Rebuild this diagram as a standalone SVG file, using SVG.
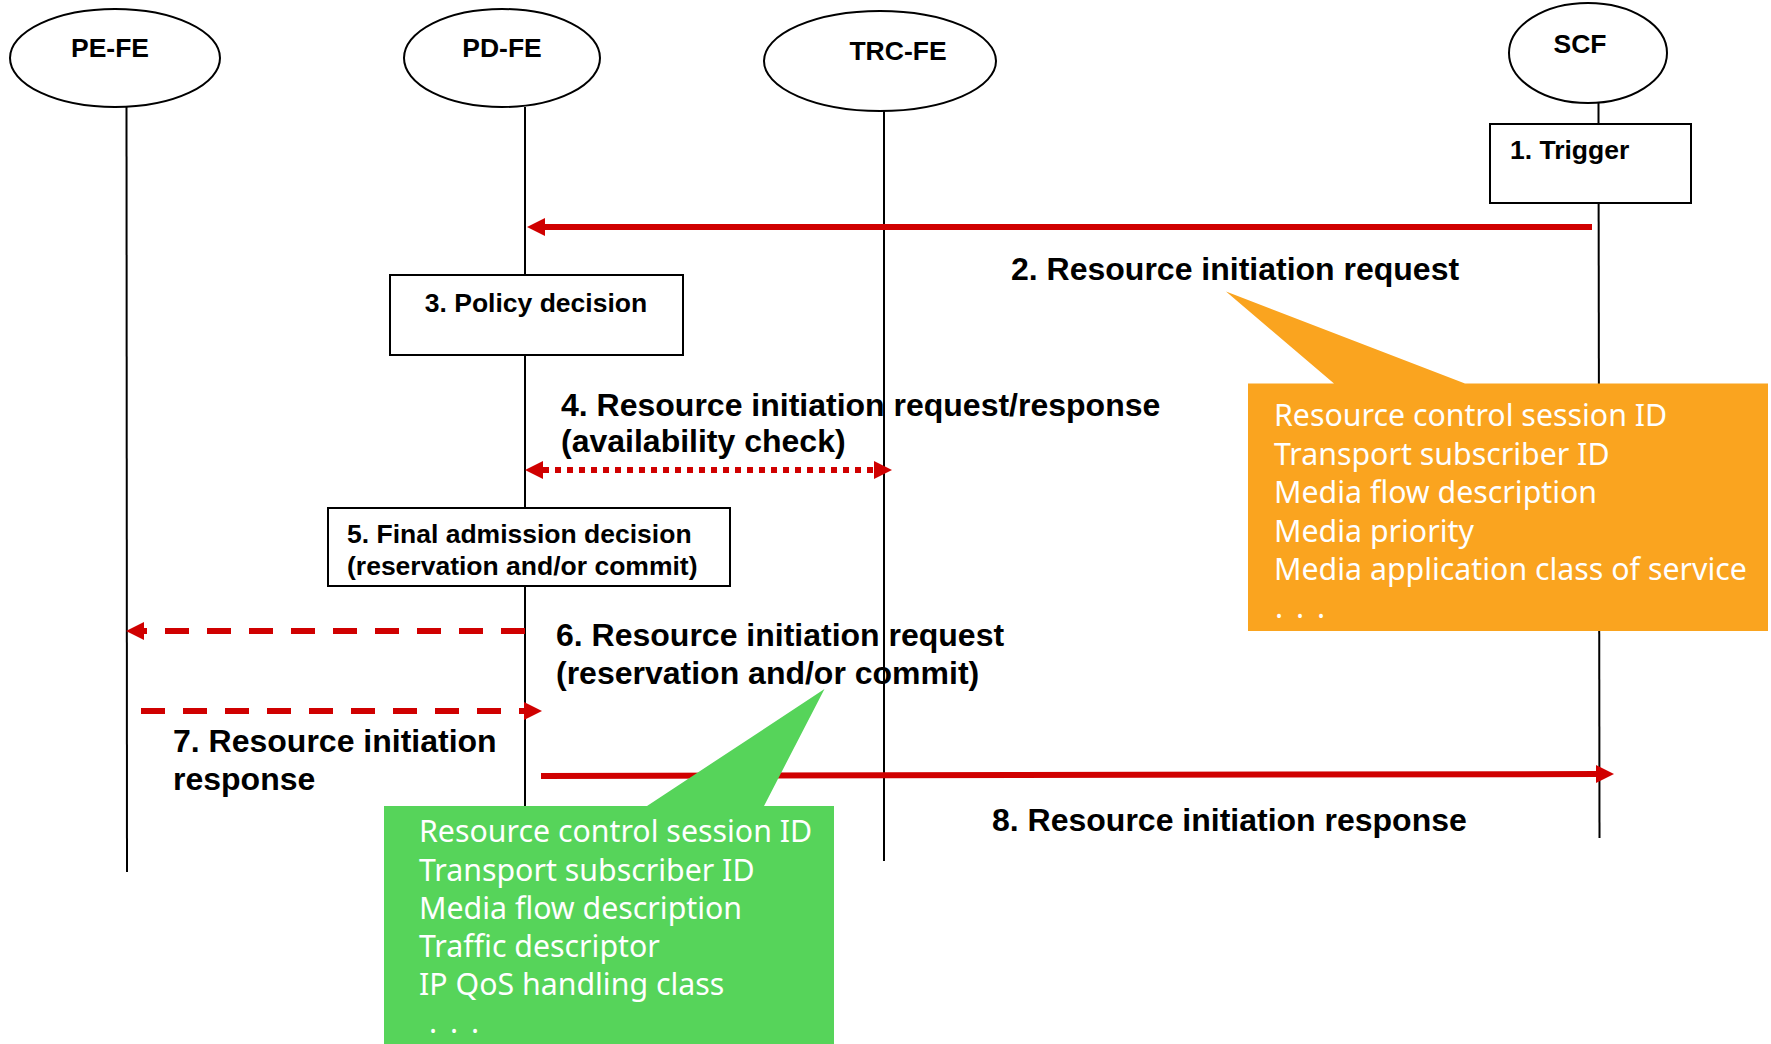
<svg xmlns="http://www.w3.org/2000/svg" width="1771" height="1044" viewBox="0 0 1771 1044">
<style>
.node ellipse{fill:#fff;stroke:#000;stroke-width:2}
.box rect{fill:#fff;stroke:#000;stroke-width:2}
.nl{font-family:"Liberation Sans",Arial,sans-serif;font-weight:bold;font-size:26.5px;fill:#000}
.ml{font-family:"Liberation Sans",Arial,sans-serif;font-weight:bold;font-size:32px;fill:#000}
.life{stroke:#000;stroke-width:2;fill:none}
.msg{stroke:#D00000;stroke-width:6;fill:none}
.dash{stroke-dasharray:24 18}
.dot{stroke-dasharray:6 6}
.ct{font-family:"Noto Sans","Open Sans",sans-serif;font-size:30.3px;fill:#fff}
</style>
<defs>
<marker id="ah" markerUnits="userSpaceOnUse" markerWidth="18" markerHeight="18" refX="0" refY="9" orient="auto-start-reverse" viewBox="0 0 18 18">
<path d="M0,0 L18,9 L0,18 z" fill="#D00000"/>
</marker>
</defs>
<rect width="1771" height="1044" fill="#fff"/>
<g id="lifelines">
<line class="life" x1="126.5" y1="107" x2="127" y2="872"/>
<line class="life" x1="525" y1="107" x2="525" y2="806"/>
<line class="life" x1="884" y1="111" x2="884" y2="861"/>
<line class="life" x1="1598.5" y1="102" x2="1599.5" y2="838"/>
</g>
<g id="pe-fe" class="node"><ellipse cx="115" cy="58" rx="105" ry="49"/><text class="nl" x="110" y="57" text-anchor="middle">PE-FE</text></g>
<g id="pd-fe" class="node"><ellipse cx="502" cy="58" rx="98" ry="49"/><text class="nl" x="502" y="57" text-anchor="middle">PD-FE</text></g>
<g id="trc-fe" class="node"><ellipse cx="880" cy="61" rx="116" ry="50"/><text class="nl" x="898" y="60" text-anchor="middle">TRC-FE</text></g>
<g id="scf" class="node"><ellipse cx="1588" cy="53" rx="79" ry="50"/><text class="nl" x="1580" y="53" text-anchor="middle">SCF</text></g>
<g id="trigger" class="box"><rect x="1490" y="124" width="201" height="79"/><text class="nl" x="1510" y="159">1. Trigger</text></g>
<g id="policy" class="box"><rect x="390" y="275" width="293" height="80"/><text class="nl" x="536" y="312" text-anchor="middle">3. Policy decision</text></g>
<g id="admission" class="box"><rect x="328" y="508" width="402" height="78"/><text class="nl" x="347" y="543">5. Final admission decision</text><text class="nl" x="347" y="575">(reservation and/or commit)</text></g>
<g id="connectors">
<line class="msg" x1="1592" y1="227" x2="545" y2="227" marker-end="url(#ah)"/>
<line class="msg dot" x1="543" y1="470" x2="874" y2="470" marker-start="url(#ah)" marker-end="url(#ah)"/>
<line class="msg dash" x1="525" y1="631" x2="144" y2="631" marker-end="url(#ah)"/>
<line class="msg dash" x1="141" y1="711" x2="524" y2="711" marker-end="url(#ah)"/>
<line class="msg" x1="541" y1="776" x2="1596" y2="774" marker-end="url(#ah)"/>
</g>
<g id="labels">
<text class="ml" x="1011" y="280">2. Resource initiation request</text>
<text class="ml" x="561" y="416">4. Resource initiation request/response</text>
<text class="ml" x="561" y="452">(availability check)</text>
<text class="ml" x="556" y="646">6. Resource initiation request</text>
<text class="ml" x="556" y="684">(reservation and/or commit)</text>
<text class="ml" x="173" y="752">7. Resource initiation</text>
<text class="ml" x="173" y="790">response</text>
<text class="ml" x="992" y="831">8. Resource initiation response</text>
</g>
<g id="callout-orange">
<path d="M1226,291.5 L1465,383.5 L1768,383.5 L1768,631 L1248,631 L1248,383.5 L1334,383.5 z" fill="#FAA41F"/>
<text class="ct" x="1274" y="426">Resource control session ID</text>
<text class="ct" x="1274" y="464.5">Transport subscriber ID</text>
<text class="ct" x="1274" y="503">Media flow description</text>
<text class="ct" x="1274" y="541.5">Media priority</text>
<text class="ct" x="1274" y="580">Media application class of service</text>
<text class="ct" x="1275 1286 1296 1307 1317" y="618">. . .</text>
</g>
<g id="callout-green">
<path d="M824.5,689 L764,806 L834,806 L834,1044 L384,1044 L384,806 L647,806 z" fill="#56D45A"/>
<text class="ct" x="419" y="842">Resource control session ID</text>
<text class="ct" x="419" y="880.5">Transport subscriber ID</text>
<text class="ct" x="419" y="919">Media flow description</text>
<text class="ct" x="419" y="957">Traffic descriptor</text>
<text class="ct" x="419" y="995">IP QoS handling class</text>
<text class="ct" x="429 440 450 461 471" y="1033">. . .</text>
</g>
</svg>
